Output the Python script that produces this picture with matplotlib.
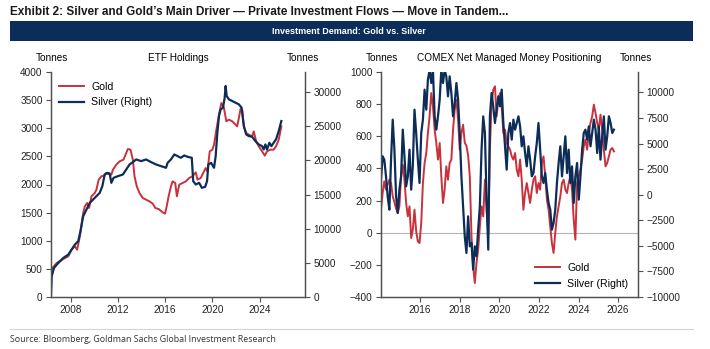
import numpy as np
import pandas as pd
import matplotlib
matplotlib.use("Agg")
from matplotlib import pyplot as plt
from matplotlib.patches import Rectangle
from matplotlib.lines import Line2D

plt.rcParams['font.family'] = ['Liberation Sans', 'DejaVu Sans']

GOLD = '#c8323c'
SILVER = '#0c2d58'
NAVY = '#0b2d59'
AXCOL = '#505050'

# ---- ETF holdings (tonnes) ----
gold_etf_years = [2006.35, 2006.83, 2007.39, 2007.81, 2008.09, 2008.37, 2008.56, 2008.79,
                  2009.07, 2009.21, 2009.40, 2009.57, 2009.77, 2010.05, 2010.19, 2010.38,
                  2010.61, 2010.80, 2011.03, 2011.45, 2011.59, 2011.87, 2012.15, 2012.48,
                  2012.65, 2012.85, 2013.07, 2013.27, 2013.41, 2013.60, 2013.83, 2014.11,
                  2014.39, 2014.67, 2014.95, 2015.17, 2015.45, 2015.79, 2015.99, 2016.13,
                  2016.29, 2016.49, 2016.63, 2016.85, 2016.99, 2017.19, 2017.47, 2017.75,
                  2018.03, 2018.31, 2018.59, 2018.73, 2019.01, 2019.21, 2019.43, 2019.57,
                  2019.77, 2019.99, 2020.13, 2020.33, 2020.55, 2020.75, 2020.97, 2021.17,
                  2021.39, 2021.67, 2021.95, 2022.09, 2022.23, 2022.37, 2022.51, 2022.65,
                  2022.85, 2023.07, 2023.35, 2023.49, 2023.69, 2023.91, 2024.19, 2024.42,
                  2024.61, 2024.89, 2025.17, 2025.37, 2025.60, 2025.82]
gold_etf = [486, 604, 676, 723, 841, 901, 841, 1079,
            1493, 1612, 1671, 1582, 1790, 1849, 1908, 2086,
            2145, 2157, 2193, 2175, 2264, 2353, 2412, 2442,
            2530, 2631, 2619, 2442, 2145, 1967, 1849, 1760,
            1730, 1701, 1659, 1582, 1564, 1505, 1482, 1612,
            1790, 1967, 2056, 2027, 1790, 1997, 2027, 2056,
            2116, 2145, 2216, 2086, 2116, 2204, 2293, 2234,
            2590, 2619, 2708, 2975, 3241, 3449, 3360, 3123,
            3153, 3123, 3064, 3034, 3182, 3342, 3330, 3034,
            2916, 2886, 2856, 2945, 2767, 2679, 2590, 2513,
            2590, 2619, 2619, 2679, 2797, 3034]

silver_etf_years = [2006.35, 2006.41, 2006.60, 2006.97, 2007.39, 2007.81, 2008.09, 2008.37,
                    2008.65, 2008.84, 2009.07, 2009.35, 2009.63, 2009.91, 2010.19, 2010.47,
                    2010.69, 2010.89, 2011.08, 2011.31, 2011.45, 2011.64, 2012.01, 2012.43,
                    2012.71, 2012.99, 2013.27, 2013.55, 2013.97, 2014.39, 2014.81, 2015.23,
                    2015.65, 2016.07, 2016.21, 2016.49, 2016.77, 2017.05, 2017.33, 2017.61,
                    2017.89, 2018.25, 2018.37, 2018.59, 2018.87, 2019.10, 2019.38, 2019.54,
                    2019.65, 2019.88, 2020.13, 2020.27, 2020.41, 2020.55, 2020.69, 2020.89,
                    2021.03, 2021.11, 2021.20, 2021.39, 2021.67, 2021.95, 2022.23, 2022.46,
                    2022.65, 2022.85, 2023.07, 2023.35, 2023.63, 2023.91, 2024.19, 2024.33,
                    2024.47, 2024.61, 2024.81, 2024.98, 2025.17, 2025.37, 2025.60, 2025.82]
silver_etf = [342, 3031, 4253, 4987, 5720, 6209, 6942, 7676,
              8165, 9631, 11831, 12809, 13787, 14276, 14765, 15254,
              16231, 17943, 18187, 18089, 16720, 17454, 17698, 17943,
              18676, 19409, 19752, 20143, 19898, 20143, 19752, 19409,
              19165, 18920, 19654, 20143, 20876, 20632, 20387, 20729,
              20534, 20387, 16965, 16476, 16720, 15987, 16134, 16965,
              19409, 19654, 18920, 20632, 24054, 26498, 27476, 27721,
              29187, 30898, 29432, 28943, 28698, 28454, 28209, 27721,
              25031, 23809, 23565, 23467, 22831, 22343, 22098, 21609,
              22343, 21609, 22587, 22098, 22587, 23076, 24298, 25765]

# ---- COMEX net managed money positioning (tonnes) ----
gold_comex = [143, 247, 320, 268, 300, 330, 309, 226, 190, 150,
              123, 164, 351, 423, 330, 185, 102, 164, -33, 19,
              143, 9, -54, -64, 60, 309, 434, 496, 620, 724,
              869, 786, 641, 558, 455, 558, 351, 185, 268, 413,
              330, 434, 455, 641, 766, 828, 703, 517, 620, 672,
              560, 540, 480, 350, -22, -209, -313, -188, -105, 40,
              164, 102, 330, 143, -2, 517, 807, 890, 911, 724,
              828, 869, 786, 620, 641, 558, 537, 517, 475, 455,
              496, 392, 351, 455, 330, 143, 247, 309, 247, 185,
              268, 330, 351, 247, 309, 268, 434, 475, 351, 206,
              143, 40, -64, -126, -2, 102, 164, 226, 309, 330,
              268, 247, 309, 351, 268, 81, -43, 309, 350, 392,
              455, 537, 579, 517, 620, 683, 724, 797, 745, 683,
              641, 735, 641, 517, 413, 434, 475, 517, 527, 506]
silver_comex = [1473, 3755, 3429, 1799, -156, -1460, 3429, 7340, 4407, -156,
                -1786, 496, 1799, 6362, 3755, 822, 1799, 4407, 496, 2777,
                8317, 6036, 3429, 1147, 6036, 7340, 10273, 8317, 11250, 12200,
                10925, 12200, 7666, 6362, 7666, 9295, 12200, 10925, 12200, 11576,
                9621, 11576, 9947, 7666, 8969, 10925, 9295, 6036, 1799, -1134,
                -4067, -5697, -2112, -5045, -4719, -7326, -5045, -6023, -3415, -1134,
                4407, 7666, 6036, -482, -5371, 7666, 9947, 8643, 7014, 8317,
                9621, 8643, 10273, 7014, 4733, 2451, 6036, 7014, 5384, 7340,
                6362, 7014, 7666, 6688, 4733, 5710, 4081, 2777, 4733, 3429,
                1799, 2125, 3755, 5058, 7014, 4407, 1799, 1147, 2125, 496,
                -808, -1460, -3415, -2763, -1460, 1147, 3103, 4733, 1799, 3755,
                5710, 2125, 4407, 1147, 2777, -808, 1799, 3103, -482, 1799,
                4407, 6036, 6362, 5384, 6688, 4733, 6036, 7340, 6362, 4081,
                6688, 3429, 5710, 7666, 4407, 5710, 7666, 7014, 6036, 6362]
comex_dates = pd.date_range("2014-01-12", "2025-10-15", periods=len(gold_comex))
comex_years = comex_dates.year + (comex_dates.dayofyear - 1) / 365.25

fig = plt.figure(figsize=(7.1, 3.49), dpi=100)
W, H = 710, 349


def fx(px):
    return px / W


def fy(py):
    return 1 - py / H


# header
fig.text(fx(10), fy(12), "Exhibit 2: Silver and Gold\u2019s Main Driver \u2014 Private Investment Flows \u2014 Move in Tandem...",
         fontsize=8.5, fontweight='bold', color='#1a1a1a', va='center', ha='left',
         family=['Liberation Sans Narrow', 'Liberation Sans'])
fig.patches.append(Rectangle((fx(10), fy(41)), fx(683), 20 / H, transform=fig.transFigure,
                             facecolor=NAVY, edgecolor='none'))
fig.text(fx(349), fy(32), "Investment Demand: Gold vs. Silver", fontsize=6.5,
         fontweight='bold', color='white', ha='center', va='center')

# footer
fig.add_artist(Line2D([fx(10), fx(693)], [fy(329), fy(329)], color='#d4d4d4', lw=0.8))
fig.text(fx(10), fy(340), "Source: Bloomberg, Goldman Sachs Global Investment Research",
         fontsize=6.4, color='#333333', va='center', ha='left', family=['Open Sans', 'DejaVu Sans'])


def style(ax):
    ax.spines['top'].set_visible(False)
    for s in ('left', 'right', 'bottom'):
        ax.spines[s].set_color(AXCOL)
        ax.spines[s].set_linewidth(0.9)
    ax.tick_params(direction='out', length=3.5, width=0.8, color=AXCOL,
                   labelsize=7.2, pad=2.5, labelcolor='#222222')


def headers(ax, title):
    ax.text(0.005, 1.062, "Tonnes", transform=ax.transAxes, ha='center', va='center', fontsize=7.2)
    ax.text(0.99, 1.062, "Tonnes", transform=ax.transAxes, ha='center', va='center', fontsize=7.2)
    ax.text(0.5, 1.062, title, transform=ax.transAxes, ha='center', va='center', fontsize=7.2)


bottom = fy(297)
height = 225 / H

# ETF holdings panel
ax1 = fig.add_axes([fx(51), bottom, 254 / W, height])
ax1r = ax1.twinx()
l1, = ax1.plot(gold_etf_years, gold_etf, color=GOLD, lw=1.4, label='Gold')
l2, = ax1r.plot(silver_etf_years, silver_etf, color=SILVER, lw=1.6, label='Silver (Right)')
ax1.set_xlim(2006.35, 2027.82)
ax1.set_ylim(0, 4000)
ax1.set_yticks(np.arange(0, 4001, 500))
ax1r.set_ylim(0, 32950)
ax1r.set_yticks(np.arange(0, 30001, 5000))
ax1.set_xticks([2008, 2012, 2016, 2020, 2024])
style(ax1)
style(ax1r)
headers(ax1, "ETF Holdings")
ax1r.legend([l1, l2], ['Gold', 'Silver (Right)'], loc='upper left', bbox_to_anchor=(0.0, 0.995),
            frameon=False, fontsize=7.6, handlelength=2.3, handletextpad=0.7, labelspacing=0.55,
            borderaxespad=0.4)

# COMEX positioning panel
ax2 = fig.add_axes([fx(381), bottom, 257 / W, height])
ax2r = ax2.twinx()
ax2.axhline(0, color='#b4b4b4', lw=0.8, zorder=0)
m1, = ax2.plot(comex_years, gold_comex, color=GOLD, lw=1.4)
m2, = ax2r.plot(comex_years, silver_comex, color=SILVER, lw=1.6)
ax2.set_xlim(2014.03, 2027.0)
ax2.set_ylim(-400, 1000)
ax2.set_yticks(np.arange(-400, 1001, 200))
ax2r.set_ylim(-10000, 12000)
ax2r.set_yticks(np.arange(-10000, 10001, 2500))
ax2.set_xticks(np.arange(2016, 2027, 2))
style(ax2)
style(ax2r)
headers(ax2, "COMEX Net Managed Money Positioning")
ax2r.legend([m1, m2], ['Gold', 'Silver (Right)'], loc='lower right', bbox_to_anchor=(0.995, 0.0),
            frameon=False, fontsize=7.6, handlelength=2.3, handletextpad=0.7, labelspacing=0.55,
            borderaxespad=0.4)

fig.savefig('out.png', dpi=100)
